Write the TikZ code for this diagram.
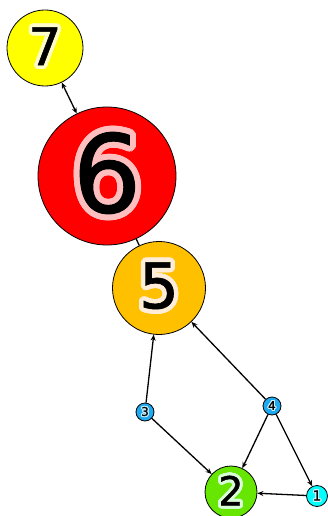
\documentclass[tikz,border=0pt]{standalone}
\usepackage{fontspec}
\setmainfont{DejaVu Sans}[FakeBold=1]
\usepackage{contour}
\usetikzlibrary{arrows.meta}

\definecolor{vyellow}{RGB}{255,255,0}
\definecolor{vred}{RGB}{255,0,0}
\definecolor{vorange}{RGB}{255,192,0}
\definecolor{vgreen}{RGB}{102,230,0}
\definecolor{vblue}{RGB}{30,170,240}
\definecolor{vcyan}{RGB}{0,255,255}
\contournumber{24}

\newcommand{\vtext}[4]{\fontsize{#1}{#1}\selectfont\contourlength{#2}\contour{#3}{#4}}

\begin{document}
\begin{tikzpicture}[
    x=1pt, y=-1pt,
    % Define styles for the vertices and edges
    vertex/.style={draw, circle, thick, inner sep=0pt},
    edge/.style={-{Stealth[length=6pt, width=5pt]}, line width=1.3pt},
    biedge/.style={{Stealth[length=6pt, width=5pt]}-{Stealth[length=6pt, width=5pt]}, line width=1.3pt},
    plain/.style={line width=1.3pt}
]
    \useasboundingbox (0,0) rectangle (328,516);
    \clip (0,0) rectangle (328,516);

    % Define the vertices
    \node[vertex, fill=vyellow, minimum size=76pt] (v7) at (45,48) {\vtext{52}{3.5pt}{yellow!20}{7}};

    \node[vertex, fill=vred, minimum size=138pt] (v6) at (107,176) {\vtext{108}{6pt}{pink}{6}};

    \node[vertex, fill=vorange, minimum size=93pt] (v5) at (159,288) {\vtext{63}{4.5pt}{orange!15}{5}};

    \node[vertex, fill=vblue, minimum size=18pt] (v3) at (145,412) {\vtext{12}{1pt}{cyan!20}{3}};

    \node[vertex, fill=vblue, minimum size=18pt] (v4) at (272,406) {\vtext{12}{1pt}{cyan!20}{4}};

    \node[vertex, fill=vgreen, minimum size=52pt] (v2) at (231,492) {\raisebox{2pt}{\vtext{40}{3pt}{green!15}{2}}};

    \node[vertex, fill=vcyan, minimum size=21pt] (v1) at (317,496) {\vtext{14}{1pt}{cyan!15}{1}};

    % Draw the edges
    \draw[biedge] (v7) -- (v6);

    \draw[plain] (v6) -- (v5);

    \draw[edge] (v3) -- (v5);

    \draw[edge] (v4) -- (v5);

    \draw[edge] (v3) -- (v2);

    \draw[edge] (v4) -- (v2);

    \draw[edge] (v4) -- (v1);

    \draw[edge] (v1) -- (v2);
\end{tikzpicture}
\end{document}
